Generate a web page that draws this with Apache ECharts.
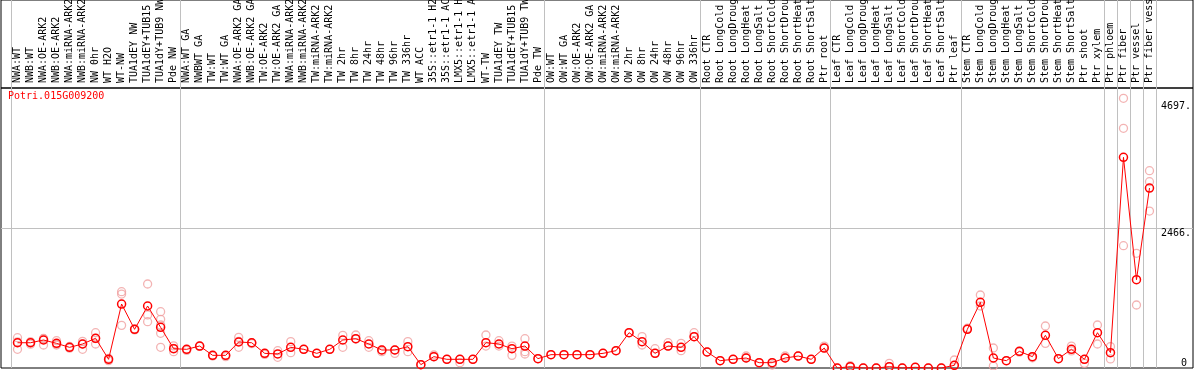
<!DOCTYPE html>
<html><head><meta charset="utf-8">
<script src="https://cdn.jsdelivr.net/npm/echarts@6/dist/echarts.min.js"></script>
<style>html,body{margin:0;padding:0;background:#fff}#c{width:1194px;height:370px}</style>
</head><body><div id="c"></div>
<script>
const chartTitle = 'Potri.015G009200';
const categories = [
  'NWA:WT','NWB:WT','NWA:OE-ARK2','NWB:OE-ARK2','NWA:miRNA-ARK2','NWB:miRNA-ARK2','NW 0hr','WT H2O','WT-NW','TUA1dEY NW','TUA1dEY+TUB15 NW','TUA1dY+TUB9 NW','Pde NW',
  'NWA:WT GA','NWBWT GA','TW:WT','TW:WT GA','NWA:OE-ARK2 GA','NWB:OE-ARK2 GA','TW:OE-ARK2','TW:OE-ARK2 GA','NWA:miRNA-ARK2','NWB:miRNA-ARK2','TW:miRNA-ARK2','TW:miRNA-ARK2','TW 2hr','TW 8hr','TW 24hr','TW 48hr','TW 96hr','TW 336hr','WT ACC','35S::etr1-1 H2O','35S::etr1-1 ACC','LMX5::etr1-1 H2O','LMX5::etr1-1 ACC','WT-TW','TUA1dEY TW','TUA1dEY+TUB15 TW','TUA1dY+TUB9 TW','Pde TW',
  'OW:WT','OW:WT GA','OW:OE-ARK2','OW:OE-ARK2 GA','OW:miRNA-ARK2','OW:miRNA-ARK2','OW 2hr','OW 8hr','OW 24hr','OW 48hr','OW 96hr','OW 336hr',
  'Root CTR','Root LongCold','Root LongDrought','Root LongHeat','Root LongSalt','Root ShortCold','Root ShortDrought','Root ShortHeat','Root ShortSalt','Ptr root',
  'Leaf CTR','Leaf LongCold','Leaf LongDrought','Leaf LongHeat','Leaf LongSalt','Leaf ShortCold','Leaf ShortDrought','Leaf ShortHeat','Leaf ShortSalt','Ptr leaf',
  'Stem CTR','Stem LongCold','Stem LongDrought','Stem LongHeat','Stem LongSalt','Stem ShortCold','Stem ShortDrought','Stem ShortHeat','Stem ShortSalt','Ptr shoot','Ptr xylem',
  'Ptr phloem','Ptr fiber','Ptr vessel','Ptr fiber vessel'
];
const groupStarts = [0,13,41,53,63,73,84,85,86,87];
const means = [
  445,445,493,434,364,423,523,153,1127,681,1092,716,340,
  329,387,223,223,458,445,258,247,364,329,258,329,493,516,423,317,317,376,59,200,153,153,153,446,423,340,387,165,
  235,235,235,235,258,305,622,464,258,387,364,552,
  282,129,153,176,94,94,176,211,153,352,
  0,23,0,0,23,0,12,0,0,47,
  681,1157,176,129,294,200,575,165,329,153,622,
  270,3711,1555,3170
];
const replicates = [
  [534,329,460],[460,420,455],[516,405,520],[481,405,420],[350,380],[329,423,470],[622,423,520],[129,170],[1344,1303,751],[690,670],[1480,934,816],[992,857,757,611,364],[346,288,390],
  [329,310],[387,380],[223,210],[223,200],[540,364,470],[445,430],[258,240],[305,188],[464,270],[329],[258],[329],[575,364],[581,510],[481,364],[288,317],[258,317],[464,288],[59],[229,200],[153],[94,153],[153],[581,387],[481,387],[387,223],[516,288,247],[165],
  [235],[235],[235],[235],[258],[305],[622],[552,405],[340,258],[446,387],[434,305],[622,552],
  [282],[129],[153],[211,176],[94],[53,94],[211,176],[211],[153],[387,352],
  [0],[23,40],[0],[0],[82,23],[0],[12],[0],[0],[141,47],
  [681,700],[1286,1092],[352,35],[129],[294,280],[200,180],[740,434],[165],[387,300],[82,153],[757,423],
  [376,159],[4750,4222,2154],[2020,1110],[3475,3282,2765]
];
const yMax = 4932;
const yLabelValues = [2466, 4697];
const yGridValues = [2466];
const yZeroLabel = [0];

const MONO = 'DejaVu Sans Mono';
const repData = [];
replicates.forEach((arr, i) => arr.forEach(v => repData.push([i, v])));
const isGroupStart = (idx) => groupStarts.includes(idx);
const sepColor = '#c0c0c0';

const chart = echarts.init(document.getElementById('c'), null, {renderer: 'canvas'});
chart.setOption({
  animation: false,
  backgroundColor: '#fff',
  title: {text: chartTitle, left: 8, top: 91, padding: 0,
    textStyle: {color: '#ff0000', fontSize: 10, fontFamily: MONO, fontWeight: 'normal'}},
  grid: [
    {left: 1, right: 1, top: 88, bottom: 2, show: true, borderColor: '#000', borderWidth: 1, backgroundColor: 'transparent', outerBoundsMode: 'none', containLabel: false},
    {left: 11, right: 38, top: 88, bottom: 2, outerBoundsMode: 'none', containLabel: false},
    {left: 11, right: 38, top: 0, height: 88, outerBoundsMode: 'none', containLabel: false},
    {left: 1, right: 1, top: 0, height: 88, show: true, borderColor: '#000', borderWidth: 1, backgroundColor: 'transparent', outerBoundsMode: 'none', containLabel: false}
  ],
  xAxis: [
    {gridIndex: 0, type: 'value', min: 0, max: 1, show: false},
    {gridIndex: 1, type: 'category', data: categories, position: 'top',
      axisLine: {show: false}, axisTick: {show: false},
      axisLabel: {interval: 0, rotate: 90, margin: 5, color: '#000', fontSize: 10, fontFamily: MONO},
      splitLine: {show: true, interval: isGroupStart, lineStyle: {color: sepColor, width: 1}}},
    {gridIndex: 2, type: 'category', data: categories,
      axisLine: {show: false}, axisTick: {show: false}, axisLabel: {show: false},
      splitLine: {show: true, interval: isGroupStart, lineStyle: {color: sepColor, width: 1}}},
    {gridIndex: 3, type: 'value', min: 0, max: 1, show: false}
  ],
  yAxis: [
    {gridIndex: 0, type: 'value', position: 'right', min: 0, max: yMax,
      axisLine: {show: false},
      axisTick: {show: false, customValues: yGridValues},
      splitLine: {show: true, lineStyle: {color: sepColor, width: 1}},
      axisLabel: {inside: true, customValues: yLabelValues, verticalAlign: 'top', margin: 2,
        color: '#000', fontSize: 10, fontFamily: MONO, formatter: v => v + '.'}},
    {gridIndex: 0, type: 'value', position: 'right', min: 0, max: yMax,
      axisLine: {show: false}, axisTick: {show: false, customValues: yZeroLabel}, splitLine: {show: false},
      axisLabel: {inside: true, customValues: yZeroLabel, verticalAlign: 'bottom', margin: 6,
        color: '#000', fontSize: 10, fontFamily: MONO, formatter: v => String(v)}},
    {gridIndex: 1, type: 'value', min: 0, max: yMax, show: false},
    {gridIndex: 2, type: 'value', min: 0, max: 1, show: false},
    {gridIndex: 3, type: 'value', min: 0, max: 1, show: false}
  ],
  series: [
    {type: 'scatter', xAxisIndex: 1, yAxisIndex: 2, data: repData, symbol: 'circle', symbolSize: 8, z: 2,
      itemStyle: {color: 'rgba(255,255,255,0)', borderColor: '#f0a0a0', borderWidth: 1.3}},
    {type: 'line', xAxisIndex: 1, yAxisIndex: 2, data: means, symbol: 'circle', symbolSize: 8, z: 3,
      showAllSymbol: true,
      lineStyle: {color: '#ff0000', width: 1},
      itemStyle: {color: 'rgba(255,0,0,0)', borderColor: '#ff0000', borderWidth: 1.5}}
  ]
});
</script></body></html>
